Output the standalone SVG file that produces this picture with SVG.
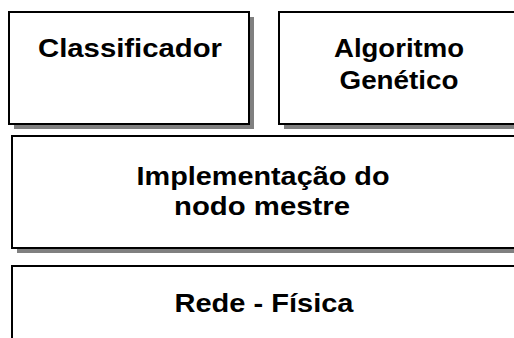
<svg xmlns="http://www.w3.org/2000/svg" width="514" height="338" viewBox="0 0 514 338">
<style>
.shadow{fill:#808080;stroke:none}
.box{fill:#fff;stroke:#000;stroke-width:2}
.lbl{font-family:"Liberation Sans",Arial,sans-serif;font-weight:bold;font-size:26px;fill:#000;text-anchor:middle}
</style>
<rect width="514" height="338" fill="#fff"/>
<g id="classificador">
<rect class="shadow" x="14" y="17" width="240" height="112"/>
<rect class="box" x="9" y="12" width="240" height="112"/>
<text class="lbl" x="130" y="57" textLength="184" lengthAdjust="spacingAndGlyphs">Classificador</text>
</g>
<g id="algoritmo-genetico">
<rect class="shadow" x="284" y="17" width="260" height="112"/>
<rect class="box" x="279" y="12" width="260" height="112"/>
<text class="lbl" x="399" y="57" textLength="130" lengthAdjust="spacingAndGlyphs">Algoritmo</text>
<text class="lbl" x="399" y="89" textLength="119" lengthAdjust="spacingAndGlyphs">Genético</text>
</g>
<g id="nodo-mestre">
<rect class="shadow" x="17" y="141" width="520" height="112"/>
<rect class="box" x="12" y="136" width="520" height="112"/>
<text class="lbl" x="263" y="185" textLength="253" lengthAdjust="spacingAndGlyphs">Implementação do</text>
<text class="lbl" x="262" y="215" textLength="176" lengthAdjust="spacingAndGlyphs">nodo mestre</text>
</g>
<g id="rede-fisica">
<rect class="box" x="12" y="266" width="520" height="100"/>
<text class="lbl" x="264" y="312" textLength="179" lengthAdjust="spacingAndGlyphs">Rede - Física</text>
</g>
<g id="connectors"></g>
</svg>
